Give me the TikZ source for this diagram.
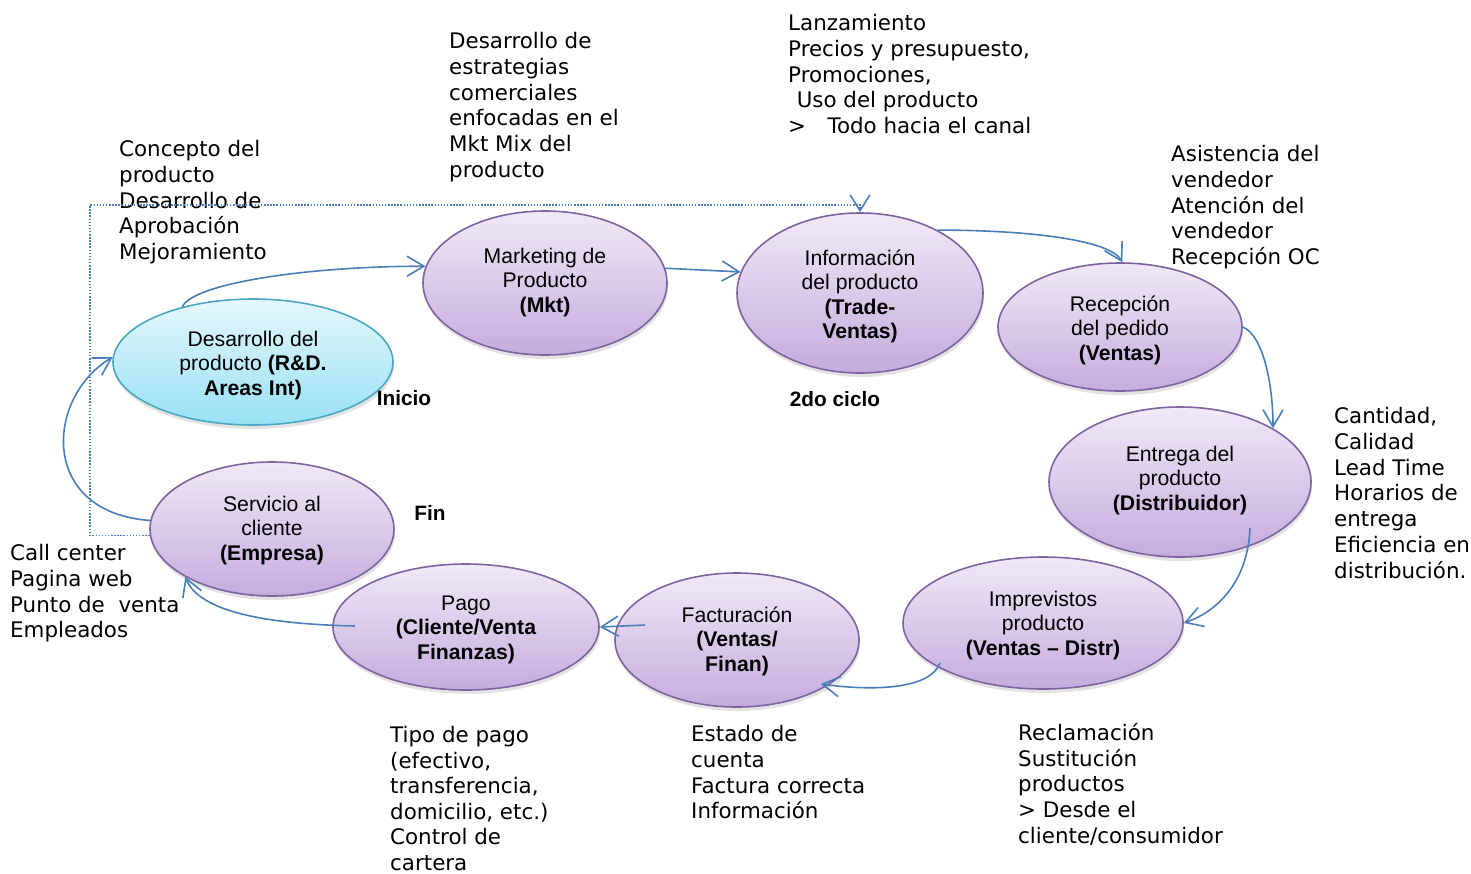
\documentclass[tikz,border=0pt]{standalone}
\usepackage{fontspec}
\setmainfont{Liberation Sans}
\newfontfamily\verd{DejaVu Sans}
\usetikzlibrary{shapes.geometric,arrows.meta,shadows,calc}
\definecolor{pbord}{HTML}{7F63A1}
\definecolor{ptop}{HTML}{F0E9F7}
\definecolor{pbot}{HTML}{C5ACDD}
\definecolor{cbord}{HTML}{4BA6C2}
\definecolor{ctop}{HTML}{E4F8FD}
\definecolor{cbot}{HTML}{98E0F4}
\definecolor{conn}{HTML}{4A7EBB}
\newcommand\ntext[2]{\raisebox{#1}[\height][\depth]{\begin{tabular}{@{}c@{}}#2\end{tabular}}}
\begin{document}
\begin{tikzpicture}[x=1pt,y=-1pt,
  proc/.style={ellipse, draw=pbord, line width=1.6pt, top color=ptop, bottom color=pbot,
    inner sep=0pt, font=\fontsize{21.2}{24.5}\selectfont,
    drop shadow={shadow xshift=1pt, shadow yshift=-4pt, opacity=0.22}},
  start/.style={proc, draw=cbord, top color=ctop, bottom color=cbot},
  note/.style={anchor=north west, align=left, inner sep=0pt, font=\verd\fontsize{21.4}{25.8}\selectfont},
  tag/.style={inner sep=0pt, font=\bfseries\fontsize{20.8}{24}\selectfont},
  flow/.style={draw=conn, line width=1.6pt, -{Straight Barb[length=17pt,width=20pt,line width=1.6pt]}},
  loopline/.style={draw=conn, line width=1.5pt, dash pattern=on 1.5pt off 1.6pt, -{Straight Barb[length=16pt,width=20pt,line width=1.6pt,sep=0pt]}}]
\useasboundingbox (0,0) rectangle (1471,873);

% process nodes
\node[start, minimum width=280pt, minimum height=126pt] (des) at (253,362) {\ntext{-4pt}{Desarrollo del\\producto \textbf{(R\&D.}\\\textbf{Areas Int)}}};
\node[proc, minimum width=244pt, minimum height=144pt] (mkt) at (545,283) {\ntext{0pt}{Marketing de\\Producto\\\textbf{(Mkt)}}};
\node[proc, minimum width=246pt, minimum height=160pt] (info) at (860,293) {\ntext{-4pt}{Información\\del producto\\\textbf{(Trade-}\\\textbf{Ventas)}}};
\node[proc, minimum width=244pt, minimum height=128pt] (rec) at (1120,327) {\ntext{-4pt}{Recepción\\del pedido\\\textbf{(Ventas)}}};
\node[proc, minimum width=262pt, minimum height=150pt] (ent) at (1180,482) {\ntext{1pt}{Entrega del\\producto\\\textbf{(Distribuidor)}}};
\node[proc, minimum width=280pt, minimum height=132pt] (imp) at (1043,623) {\ntext{-3pt}{Imprevistos\\producto\\\textbf{(Ventas -- Distr)}}};
\node[proc, minimum width=244pt, minimum height=134pt] (fac) at (737,640) {\ntext{-2pt}{Facturación\\\textbf{(Ventas/}\\\textbf{Finan)}}};
\node[proc, minimum width=266pt, minimum height=126pt] (pago) at (466,627) {\ntext{-3pt}{Pago\\\textbf{(Cliente/Venta}\\\textbf{Finanzas)}}};
\node[proc, minimum width=244pt, minimum height=134pt] (srv) at (272,529) {\ntext{-2pt}{Servicio al\\cliente\\\textbf{(Empresa)}}};

% tags
\node[tag] (inicio) at (404,398) {Inicio};
\node[tag] (ciclo) at (835,399) {2do ciclo};
\node[tag] (fin) at (430,513) {Fin};

% annotations
\node[note] (n1) at (119,140) {Concepto del\\producto\\Desarrollo de\\Aprobación\\Mejoramiento};
\node[note] (n2) at (449,32) {Desarrollo de\\estrategias\\comerciales\\enfocadas en el\\Mkt Mix del\\producto};
\node[note] (n3) at (788,14) {Lanzamiento\\Precios y presupuesto,\\Promociones,\\\hspace{0.4em}Uso del producto\\>\hspace{1em}Todo hacia el canal};
\node[note] (n4) at (1171,145) {Asistencia del\\vendedor\\Atención del\\vendedor\\Recepción OC};
\node[note] (n5) at (1334,407) {Cantidad,\\Calidad\\Lead Time\\Horarios de\\entrega\\Eficiencia en\\distribución.};
\node[note] (n6) at (1018,723) {Reclamación\\Sustitución\\productos\\> Desde el\\cliente/consumidor};
\node[note] (n7) at (691,725) {Estado de\\cuenta\\Factura correcta\\Información};
\node[note, font=\verd\fontsize{21.4}{25.6}\selectfont] (n8) at (390,726) {Tipo de pago\\(efectivo,\\transferencia,\\domicilio, etc.)\\Control de\\cartera};
\node[note] (n9) at (10,544) {Call center\\Pagina web\\Punto de~~venta\\Empleados};

% connectors
\draw[flow] (des.142) .. controls +(10,-23) and +(-120,0) .. (mkt.172);
\draw[flow] (mkt.7) -- (info.170);
\draw[flow] (info.39) .. controls +(93,0) and +(-12,-22) .. (rec.88);
\draw[flow] (rec.east) .. controls +(20,8) and +(0,-45) .. (ent.30);
\coordinate (e1) at ($(ent.center)+(70,46)$);
\draw[flow] (e1) .. controls +(-2,52) and +(35,-12) .. (imp.east);
\coordinate (i1) at ($(imp.center)+(-103,40)$);
\coordinate (f1) at ($(fac.center)+(84,44)$);
\draw[flow] (i1) .. controls +(-10,27) and +(50,7) .. (f1);
\coordinate (f2) at ($(fac.center)+(-92,-15)$);
\draw[flow] (f2) -- (pago.east);
\coordinate (p1) at ($(pago.center)+(-111,-1)$);
\draw[flow] (p1) .. controls +(-95,-2) and +(13,33) .. (srv.209.5);
\draw[flow] (srv.176) .. controls +(-112,-8) and +(-67,40) .. (des.178);

\coordinate (dotc) at (90,205);
\draw[loopline] (srv.183) -| (dotc) -| (info.north);
\end{tikzpicture}
\end{document}
